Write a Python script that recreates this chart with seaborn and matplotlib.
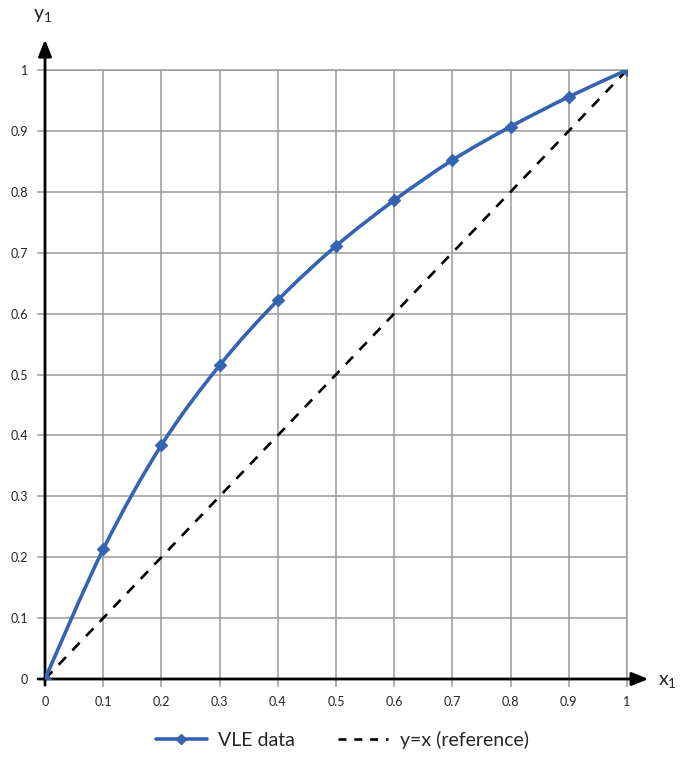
import numpy as np
import matplotlib
matplotlib.use('Agg')
import matplotlib.pyplot as plt
from matplotlib.path import Path
from matplotlib.patches import PathPatch
from matplotlib.lines import Line2D
import seaborn as sns

# Data
x1 = [0.0, 0.1, 0.2, 0.3, 0.4, 0.5, 0.6, 0.7, 0.8, 0.9, 1.0]
y1 = [0.0, 0.213, 0.384, 0.515, 0.622, 0.711, 0.786, 0.852, 0.907, 0.956, 1.0]
ref_x = [0.0, 1.0]
ref_y = [0.0, 1.0]
ticks = [0, 0.1, 0.2, 0.3, 0.4, 0.5, 0.6, 0.7, 0.8, 0.9, 1]
tick_labels = ['0', '0.1', '0.2', '0.3', '0.4', '0.5', '0.6', '0.7', '0.8', '0.9', '1']

BLUE = '#3463B2'
GRID = '#9A9A9A'

sns.set_style('white')
plt.rcParams['font.family'] = ['Lato', 'DejaVu Sans']
plt.rcParams['mathtext.fontset'] = 'custom'
plt.rcParams['mathtext.rm'] = 'Lato'
plt.rcParams['mathtext.it'] = 'Lato'


def smooth_path(xs, ys):
    """Catmull-Rom style smooth line through the points, as bezier path."""
    p = np.column_stack([xs, ys])
    pts = np.vstack([p[0], p, p[-1]])
    verts = [p[0]]
    codes = [Path.MOVETO]
    for i in range(1, len(pts) - 2):
        c1 = pts[i] + (pts[i + 1] - pts[i - 1]) / 6
        c2 = pts[i + 1] - (pts[i + 2] - pts[i]) / 6
        verts += [c1, c2, pts[i + 1]]
        codes += [Path.CURVE4] * 3
    return Path(verts, codes)


fig = plt.figure(figsize=(6.85, 7.66), dpi=100)
ax = fig.add_axes([45 / 685, 87 / 766, 582 / 685, 609 / 766])

# reference diagonal
sns.lineplot(x=ref_x, y=ref_y, ax=ax, color='black', lw=1.9,
             linestyle=(0, (4, 3.5)), zorder=3)

# smooth VLE curve + markers
ax.add_patch(PathPatch(smooth_path(x1, y1), facecolor='none', edgecolor=BLUE,
                       lw=2.6, zorder=4))
sns.scatterplot(x=x1, y=y1, ax=ax, marker='D', s=42, color=BLUE,
                edgecolor=BLUE, zorder=5)

ax.set_xlim(0, 1)
ax.set_ylim(0, 1)
ax.set_xticks(ticks)
ax.set_yticks(ticks)
ax.set_xticklabels(tick_labels)
ax.set_yticklabels(tick_labels)
ax.grid(True, color=GRID, lw=1.1)
ax.tick_params(axis='both', length=6, width=1.1, color=GRID, labelsize=9,
               labelcolor='#222222', pad=6, direction='out')
ax.tick_params(axis='both', bottom=True, left=True)

for s in ['top', 'right']:
    ax.spines[s].set_color(GRID)
    ax.spines[s].set_linewidth(1.1)
for s in ['left', 'bottom']:
    ax.spines[s].set_visible(False)

# axes with arrows
arrow = dict(arrowstyle='-|>,head_length=1.0,head_width=0.4',
             color='black', lw=2, shrinkA=0, shrinkB=0)
ax.annotate('', xy=(0, 1.05), xytext=(0, -0.01), xycoords='data',
            arrowprops=arrow, annotation_clip=False)
ax.annotate('', xy=(1.037, 0), xytext=(-0.012, 0), xycoords='data',
            arrowprops=arrow, annotation_clip=False)

fig.text(43 / 685, 1 - 16 / 766, r'$\mathregular{y_1}$', fontsize=14,
         ha='center', va='center', color='#222222')
fig.text(667 / 685, 1 - 682 / 766, r'$\mathregular{x_1}$', fontsize=14,
         ha='center', va='center', color='#222222')

handles = [
    Line2D([0], [0], color=BLUE, lw=2.6, marker='D', markersize=5),
    Line2D([0], [0], color='black', lw=1.9, linestyle=(0, (3, 3))),
]
fig.legend(handles, ['VLE data', 'y=x (reference)'], loc='center',
           bbox_to_anchor=(0.5, 1 - 740 / 766), ncol=2, frameon=False,
           fontsize=14, handlelength=2.6, columnspacing=2.2, handletextpad=0.6)

fig.savefig('out.png', dpi=100, facecolor='white')
